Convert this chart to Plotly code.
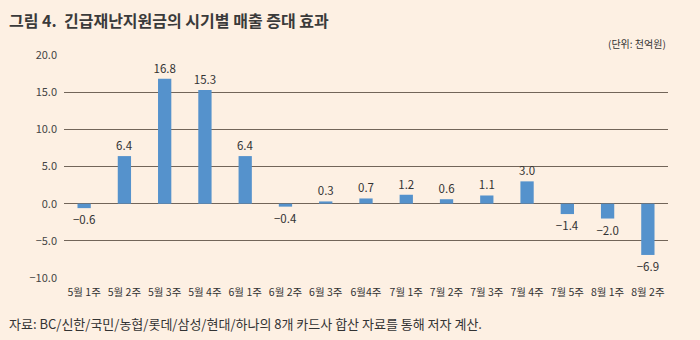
import plotly.graph_objects as go

categories = ["5월 1주", "5월 2주", "5월 3주", "5월 4주", "6월 1주", "6월 2주", "6월 3주", "6월4주",
              "7월 1주", "7월 2주", "7월 3주", "7월 4주", "7월 5주", "8월 1주", "8월 2주"]
values = [-0.6, 6.4, 16.8, 15.3, 6.4, -0.4, 0.3, 0.7, 1.2, 0.6, 1.1, 3.0, -1.4, -2.0, -6.9]
yticks = [-10, -5, 0, 5, 10, 15, 20]

bg = "#FDF0E3"
grid = "#726559"
font = "Noto Sans CJK KR"

labels = [f"{v:.1f}".replace("-", "−") for v in values]

fig = go.Figure()
fig.add_trace(go.Bar(
    x=categories, y=values, width=0.33,
    marker=dict(color="#5592CC", line=dict(width=0)),
    text=labels, textposition="outside", cliponaxis=False, constraintext="none",
    textfont=dict(family=font, size=11.5, color="#333333"),
))

fig.update_layout(
    width=700, height=340,
    margin=dict(l=64, r=32, t=55, b=62),
    paper_bgcolor=bg, plot_bgcolor=bg,
    showlegend=False,
    font=dict(family=font, size=11, color="#444444"),
    xaxis=dict(showgrid=False, showline=False, ticks="", tickfont=dict(size=10.5, color="#333333"),
               tickangle=0, ticklabelstandoff=6),
    yaxis=dict(range=[-10, 20], tickvals=yticks, ticktext=[f"{t:.1f}".replace("-", "−") for t in yticks],
               showgrid=True, gridcolor=grid, gridwidth=1, zeroline=True, zerolinecolor=grid,
               zerolinewidth=1, showline=False, ticks="", ticklabelstandoff=6,
               tickfont=dict(size=11, color="#444444")),
    annotations=[
        dict(text="<b>그림 4.  긴급재난지원금의 시기별 매출 증대 효과</b>", x=0, y=1, xref="paper", yref="paper",
             xanchor="left", yanchor="top", showarrow=False,
             font=dict(family=font, size=16, color="#3a3a3a"), xshift=-57, yshift=49),
        dict(text="(단위: 천억원)", x=1, y=1, xref="paper", yref="paper", xanchor="right", yanchor="bottom",
             showarrow=False, font=dict(family=font, size=10, color="#333333"), yshift=2),
        dict(text="자료: BC/신한/국민/농협/롯데/삼성/현대/하나의 8개 카드사 합산 자료를 통해 저자 계산.",
             x=0, y=0, xref="paper", yref="paper", xanchor="left", yanchor="top", showarrow=False,
             font=dict(family=font, size=13, color="#333333"), xshift=-57, yshift=-34),
    ],
)

fig.write_html("out.html")
